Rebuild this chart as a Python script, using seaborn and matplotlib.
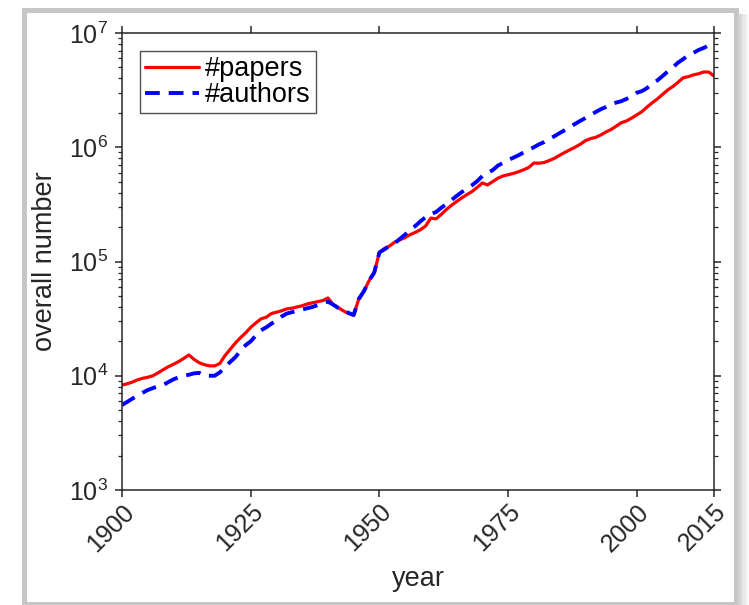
import matplotlib
matplotlib.use("Agg")
import matplotlib.pyplot as plt
import matplotlib.patches as mpatches
import seaborn as sns
import numpy as np
import pandas as pd

years = list(range(1900, 2016))

papers = [
    8300, 8500, 8800, 9200, 9500, 9700, 10000, 10600, 11300, 12000,
    12600, 13300, 14200, 15200, 13900, 13000, 12500, 12200, 12200, 12800,
    15000, 17000, 19300, 21500, 23700, 26500, 29000, 31500, 32500, 35000,
    36000, 37000, 38500, 39000, 40000, 41000, 42500, 43500, 44500, 45500,
    48000, 42000, 39500, 37000, 35000, 34000, 47000, 55000, 68000, 80000,
    120000, 130000, 137000, 148000, 155000, 162000, 172000, 180000, 190000, 205000,
    240000, 236000, 258000, 285000, 310000, 335000, 360000, 385000, 410000, 445000,
    487000, 468000, 500000, 535000, 560000, 575000, 590000, 610000, 635000, 665000,
    728000, 725000, 735000, 765000, 800000, 850000, 900000, 950000, 1000000, 1060000,
    1140000, 1190000, 1220000, 1280000, 1360000, 1430000, 1530000, 1640000, 1700000, 1800000,
    1920000, 2050000, 2250000, 2450000, 2650000, 2900000, 3170000, 3400000, 3700000, 4050000,
    4150000, 4300000, 4400000, 4560000, 4550000, 4200000,
]

authors = [
    5550, 5900, 6300, 6700, 7100, 7500, 7800, 8100, 8300, 8800,
    9300, 9700, 10000, 10200, 10500, 10600, 10000, 10000, 10000, 10700,
    11900, 13200, 14500, 16500, 18500, 20000, 22500, 25000, 26500, 28500,
    30500, 33000, 35000, 36000, 37000, 38000, 39000, 40000, 41500, 43000,
    44500, 42000, 39200, 37500, 35500, 34000, 47000, 55000, 68000, 80000,
    120000, 128000, 137000, 145000, 158000, 172000, 190000, 205000, 225000, 245000,
    260000, 271000, 295000, 318000, 345000, 375000, 405000, 435000, 465000, 505000,
    560000, 595000, 630000, 690000, 730000, 770000, 810000, 850000, 900000, 946000,
    1000000, 1060000, 1110000, 1180000, 1250000, 1330000, 1410000, 1500000, 1600000, 1700000,
    1800000, 1920000, 2030000, 2150000, 2250000, 2380000, 2460000, 2530000, 2650000, 2800000,
    3000000, 3100000, 3300000, 3600000, 3850000, 4200000, 4600000, 5000000, 5500000, 5900000,
    6400000, 6700000, 7100000, 7400000, 7800000, 8000000,
]

xtick_years = [1900, 1925, 1950, 1975, 2000, 2015]
ytick_vals = [1e3, 1e4, 1e5, 1e6, 1e7]

sns.set_style("ticks")
plt.rcParams['font.family'] = ['Liberation Sans', 'DejaVu Sans']
plt.rcParams['mathtext.fontset'] = 'custom'
plt.rcParams['mathtext.rm'] = 'Liberation Sans'
plt.rcParams['mathtext.it'] = 'Liberation Sans'

W, H = 749, 605
fig = plt.figure(figsize=(W / 100, H / 100), dpi=100)
fig.patch.set_facecolor('white')

# frame around figure
fig.patches.append(mpatches.Rectangle((24.5 / W, 1 - 604 / H), (735.5 - 24.5) / W, (604 - 9.5) / H,
                                      transform=fig.transFigure, fill=False,
                                      edgecolor='#c6c6c6', linewidth=3.6, zorder=0))
for i, c in enumerate(['#d2d2d2', '#dedede', '#e9e9e9', '#f3f3f3']):
    fig.patches.append(mpatches.Rectangle(((738 + 2.5 * i) / W, 1 - 605 / H), 2.5 / W, (605 - 14) / H,
                                          transform=fig.transFigure, facecolor=c,
                                          edgecolor='none', zorder=0))

ax = fig.add_axes([122 / W, 1 - 490 / H, (714 - 122) / W, (490 - 33) / H])

df_p = pd.DataFrame({'year': years, 'value': papers})
df_a = pd.DataFrame({'year': years, 'value': authors})

sns.lineplot(data=df_p, x='year', y='value', ax=ax, color='#ff0000', linewidth=2.3,
             label='#papers')
sns.lineplot(data=df_a, x='year', y='value', ax=ax, color='#0000ff', linewidth=2.8,
             label='#authors')
ax.lines[1].set_dashes((3.8, 2.3))

ax.set_yscale('log')
ax.set_xlim(1900, 2015)
ax.set_ylim(1e3, 1e7)
ax.set_xticks(xtick_years)
ax.set_xticklabels([str(y) for y in xtick_years], rotation=45, ha='right', va='top',
                   rotation_mode='anchor')
ax.set_yticks(ytick_vals)

axc = '#262626'
for s in ax.spines.values():
    s.set_visible(True)
    s.set_color(axc)
    s.set_linewidth(1.1)
ax.tick_params(axis='both', which='major', direction='out', length=5, width=1.1,
               colors=axc, labelsize=18, top=True, right=True)
ax.tick_params(axis='y', which='minor', direction='out', length=3, width=0.9,
               colors=axc, right=True, left=True)
ax.tick_params(axis='x', which='major', pad=2)
ax.tick_params(axis='y', which='major', pad=5)
ax.grid(False)

leg = ax.legend(loc='upper left', bbox_to_anchor=(0, 1), borderaxespad=0.65,
                fontsize=19.5, frameon=True, fancybox=False, handlelength=2.0,
                handletextpad=0.2, labelspacing=0.0, borderpad=0.2)
leg.get_frame().set_edgecolor('#262626')
leg.get_frame().set_linewidth(1.0)
for t in leg.get_texts():
    t.set_color('black')

ax.set_xlabel('year', fontsize=19.5, color=axc, labelpad=7)
ax.set_ylabel('overall number', fontsize=19.5, color=axc, labelpad=8)

fig.savefig('out.png', dpi=100, facecolor='white')
